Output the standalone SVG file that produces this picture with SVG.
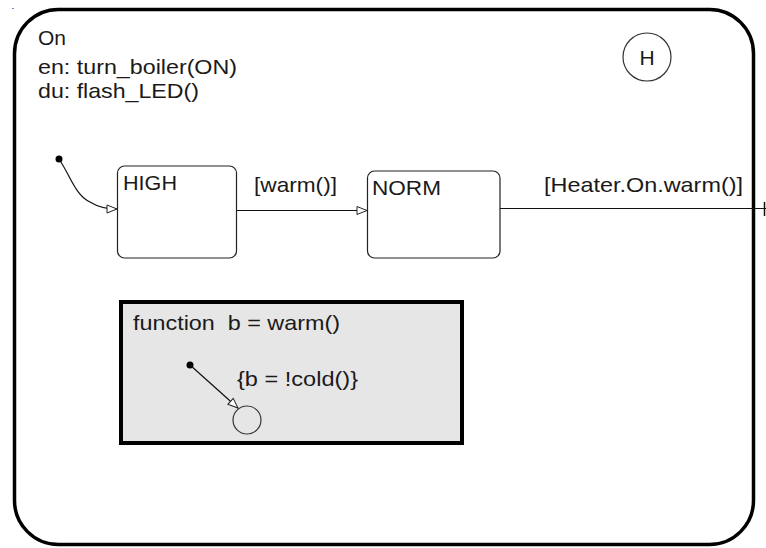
<svg xmlns="http://www.w3.org/2000/svg" width="766" height="548" viewBox="0 0 766 548">
<defs>
<style>
text{font-family:"Liberation Sans",Arial,sans-serif;font-size:21px;fill:#1a1a1a}
.st{fill:none;stroke:#222;stroke-width:1.2}
.ln{fill:none;stroke:#111;stroke-width:1.2}
</style>
<marker id="open" viewBox="0 0 12 10" refX="11" refY="5" markerWidth="12" markerHeight="10" markerUnits="userSpaceOnUse" orient="auto">
<path d="M1,1 L11,5 L1,9 Z" fill="#fff" stroke="#222" stroke-width="1"/>
</marker>
</defs>
<rect width="766" height="548" fill="#fff"/>
<rect x="12" y="8" width="2" height="1" fill="#8080c0"/>
<g id="On">
<rect x="14.5" y="9.5" width="739" height="535" rx="44" ry="44" fill="none" stroke="#000" stroke-width="3.5"/>
<text x="38" y="45">On</text>
<text x="38" y="74" textLength="199" lengthAdjust="spacingAndGlyphs">en: turn_boiler(ON)</text>
<text x="38" y="98" textLength="161" lengthAdjust="spacingAndGlyphs">du: flash_LED()</text>
</g>
<g id="history">
<circle cx="647" cy="57" r="24" fill="none" stroke="#333" stroke-width="1.2"/>
<text x="647" y="65" text-anchor="middle">H</text>
</g>
<g id="HIGH">
<rect x="117.5" y="166" width="119" height="92" rx="7" class="st"/>
<text x="123" y="190" textLength="54" lengthAdjust="spacingAndGlyphs">HIGH</text>
</g>
<g id="NORM">
<rect x="367.5" y="171" width="132.5" height="87" rx="7" class="st"/>
<text x="372" y="195" textLength="69" lengthAdjust="spacingAndGlyphs">NORM</text>
</g>
<g id="warm_fn">
<rect x="121" y="302" width="341" height="141" fill="#e6e6e6" stroke="#000" stroke-width="4"/>
<text x="133" y="330" textLength="207" lengthAdjust="spacingAndGlyphs" xml:space="preserve">function  b = warm()</text>
<circle cx="247" cy="420" r="14" fill="none" stroke="#333" stroke-width="1.2"/>
</g>
<g id="connectors">
<circle cx="59" cy="159" r="3.5" fill="#000"/>
<path d="M59,159 C70,175 75,195 90,202 C98,207 106,209 117,209" class="ln" marker-end="url(#open)"/>
<line x1="237" y1="210.5" x2="367" y2="210.5" class="ln" marker-end="url(#open)"/>
<text x="254" y="192" textLength="83" lengthAdjust="spacingAndGlyphs">[warm()]</text>
<line x1="500" y1="208.5" x2="766" y2="208.5" class="ln"/>
<line x1="764.5" y1="202" x2="764.5" y2="216" stroke="#111" stroke-width="1.5"/>
<text x="544" y="192" textLength="199" lengthAdjust="spacingAndGlyphs">[Heater.On.warm()]</text>
<circle cx="190" cy="365" r="3.5" fill="#000"/>
<line x1="190" y1="365" x2="238" y2="408" class="ln" marker-end="url(#open)"/>
<text x="237" y="386" textLength="121" lengthAdjust="spacingAndGlyphs">{b = !cold()}</text>
</g>
</svg>
